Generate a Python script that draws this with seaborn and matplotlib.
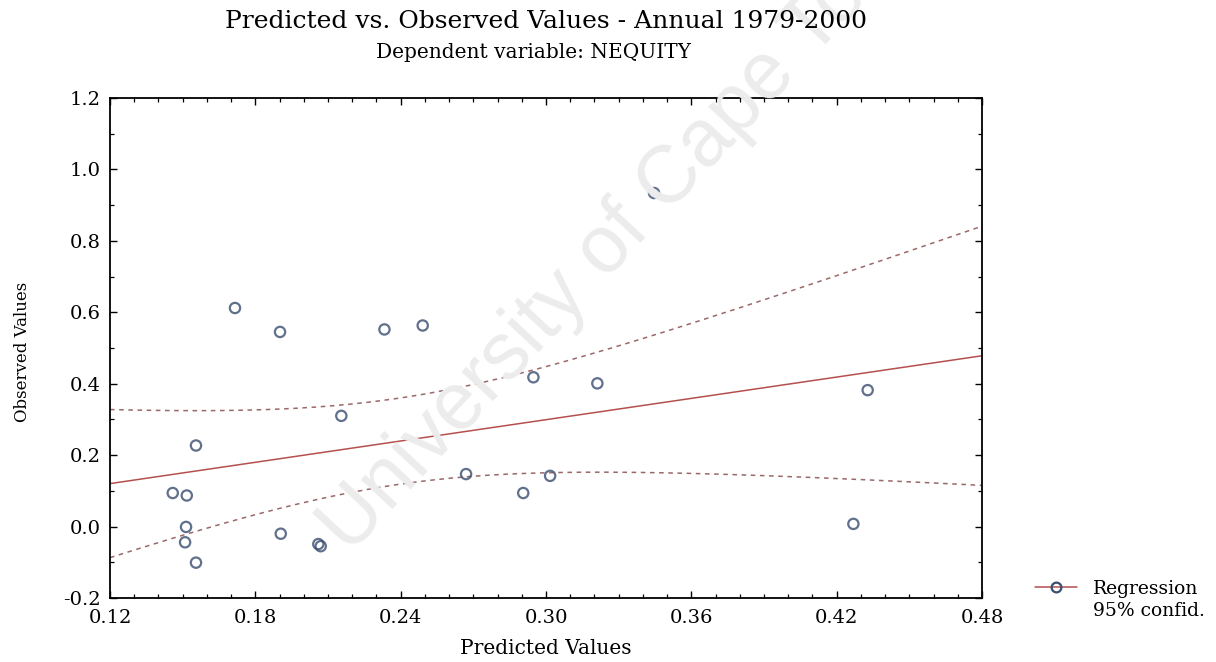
import numpy as np
import pandas as pd
import matplotlib
matplotlib.use("Agg")
import matplotlib.pyplot as plt
from matplotlib.lines import Line2D
from matplotlib.ticker import MultipleLocator
import seaborn as sns

# ---- data ----
predicted = [0.1716, 0.1902, 0.2333, 0.2491, 0.2155, 0.1555, 0.1459, 0.1517,
             0.1514, 0.1510, 0.1555, 0.1905, 0.2060, 0.2070, 0.2670, 0.3446,
             0.2948, 0.3212, 0.4328, 0.3017, 0.2906, 0.4269]
observed = [0.612, 0.545, 0.552, 0.563, 0.310, 0.227, 0.094, 0.087,
            -0.001, -0.044, -0.101, -0.020, -0.049, -0.055, 0.147, 0.934,
            0.418, 0.401, 0.382, 0.142, 0.094, 0.0075]
x_ticks = [0.12, 0.18, 0.24, 0.30, 0.36, 0.42, 0.48]
y_ticks = [-0.2, 0.0, 0.2, 0.4, 0.6, 0.8, 1.0, 1.2]
title = "Predicted vs. Observed Values - Annual 1979-2000"
subtitle = "Dependent variable: NEQUITY"
x_label = "Predicted Values"
y_label = "Observed Values"
legend_labels = ["Regression", "95% confid."]
watermark = "University of Cape Town"
T_975 = 2.086  # t quantile, df = n - 2 = 20

df = pd.DataFrame({"pred": predicted, "obs": observed})

sns.set_style("white")
plt.rcParams["font.family"] = ["DejaVu Serif"]
plt.rcParams["text.color"] = "black"
plt.rcParams["xtick.color"] = "black"
plt.rcParams["ytick.color"] = "black"
plt.rcParams["axes.labelcolor"] = "black"

W, H = 1216, 662
fig = plt.figure(figsize=(W / 100, H / 100), dpi=100)
fig.patch.set_facecolor("white")

# watermark
fig.text(350 / W, 1 - 555 / H, watermark, family=["Liberation Sans"], fontsize=58,
         color="#ececec", rotation=47, rotation_mode="anchor",
         ha="left", va="baseline", zorder=0)

L, R, T, B = 110, 982, 98, 598
ax = fig.add_axes([L / W, 1 - B / H, (R - L) / W, (B - T) / H])
ax.set_facecolor("none")
ax.set_xlim(0.12, 0.48)
ax.set_ylim(-0.2, 1.2)

reg_color = "#b5504f"
ci_color = "#9a6868"
pt_color = "#3a4e70"

sns.regplot(data=df, x="pred", y="obs", ax=ax, ci=None, truncate=False,
            scatter_kws=dict(s=55, facecolors="none", edgecolors=pt_color,
                             linewidths=1.6, zorder=3),
            line_kws=dict(color=reg_color, lw=1.1, zorder=2))

# analytic 95% confidence band of the regression line
xv = np.asarray(predicted)
yv = np.asarray(observed)
n = len(xv)
b1, b0 = np.polyfit(xv, yv, 1)
resid = yv - (b0 + b1 * xv)
s = np.sqrt(np.sum(resid ** 2) / (n - 2))
sxx = np.sum((xv - xv.mean()) ** 2)
grid = np.linspace(0.12, 0.48, 200)
fit = b0 + b1 * grid
half = T_975 * s * np.sqrt(1 / n + (grid - xv.mean()) ** 2 / sxx)
band = pd.DataFrame({"x": np.concatenate([grid, grid]),
                     "y": np.concatenate([fit + half, fit - half]),
                     "side": ["upper"] * len(grid) + ["lower"] * len(grid)})
for side in ["upper", "lower"]:
    sns.lineplot(data=band[band.side == side], x="x", y="y", ax=ax,
                 color=ci_color, lw=1.1, dashes=(3, 3), estimator=None,
                 sort=False, zorder=2)

ax.set_xticks(x_ticks)
ax.set_xticklabels([f"{v:.2f}" for v in x_ticks])
ax.set_yticks(y_ticks)
ax.set_yticklabels([f"{v:.1f}" for v in y_ticks])
ax.xaxis.set_minor_locator(MultipleLocator(0.01))
ax.yaxis.set_minor_locator(MultipleLocator(0.1))
ax.tick_params(which="both", direction="in", top=True, right=True,
               bottom=True, left=True, color="black")
ax.tick_params(which="major", length=5, width=1.0, labelsize=14)
ax.tick_params(which="minor", length=3, width=0.9)
ax.tick_params(axis="x", which="major", pad=8)
ax.tick_params(axis="y", which="major", pad=7)
for sp in ax.spines.values():
    sp.set_visible(True)
    sp.set_color("black")
    sp.set_linewidth(1.3)

ax.set_xlabel("")
ax.set_ylabel("")
fig.text(546 / W, 1 - 648 / H, x_label, fontsize=14.5, ha="center", va="center")
fig.text(23 / W, 1 - 352 / H, y_label, fontsize=12, ha="center", va="center",
         rotation=90)
fig.text(546 / W, 1 - 22 / H, title, fontsize=18, ha="center", va="center")
fig.text(533 / W, 1 - 53 / H, subtitle, fontsize=14.5, ha="center", va="center")

handles = [Line2D([], [], color=reg_color, lw=1.1, marker="o", markersize=7,
                  mfc="none", mec=pt_color, mew=1.6),
           Line2D([], [], linestyle="none")]
fig.legend(handles=handles, labels=legend_labels, loc="upper left",
           bbox_to_anchor=(1035 / W, 1 - 580 / H), frameon=False,
           fontsize=13.5, handlelength=2.25, handletextpad=0.85,
           labelspacing=0.2, borderaxespad=0, borderpad=0)

fig.savefig("out.png", dpi=100, facecolor="white")
